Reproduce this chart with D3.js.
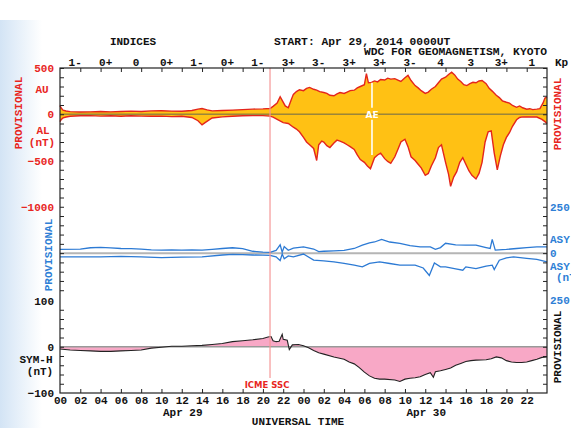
<!DOCTYPE html>
<html><head><meta charset="utf-8">
<script src="https://cdn.jsdelivr.net/npm/d3@7"></script>
<style>body{margin:0;background:#fff} svg{display:block}</style>
</head><body><svg id="c" width="571" height="428"></svg>
<script>
// ---------- DATA (hours since 2014-04-29 00UT, nT) ----------
const kpLabels = ["1-","0+","0","0+","1-","0+","1-","3+","3-","3+","3+","3-","4","3","3+","1"];
const hourTicks = d3.range(0, 48, 2);
const dayLabels = [{t:12, label:"Apr 29"},{t:36, label:"Apr 30"}];
const aeAxisLabels = [500, 0, -500, -1000];
const symAxisLabels = [100, 0, -100];
const asyAxisLabels = [250, 0, -250];
const icmeTime = 20.7;
const aeMarkTime = 30.75;

const au = [[0,95],[0.1,70],[0.3,45],[0.6,35],[1,28],[2,24],[3,26],[4,30],[5,26],[6,30],[7,34],[8,30],[9,36],[10,38],[11,34],[12,32],[13,40],[13.6,55],[14,62],[14.5,48],[15,36],[16,40],[17,45],[18,50],[19,55],[20,58],[20.7,62],[21,85],[21.4,120],[21.7,190],[21.9,150],[22.2,90],[22.5,70],[22.8,160],[23,215],[23.3,245],[23.6,265],[24,255],[24.3,280],[24.6,290],[25,270],[25.3,260],[25.6,245],[26,235],[26.3,225],[26.6,205],[27,200],[27.3,220],[27.6,235],[28,225],[28.3,240],[28.6,255],[29,260],[29.3,285],[29.6,300],[30,320],[30.2,440],[30.4,340],[30.7,345],[31,360],[31.3,350],[31.6,375],[32,370],[32.3,390],[32.6,380],[33,385],[33.3,370],[33.6,355],[34,395],[34.3,420],[34.6,365],[35,310],[35.3,285],[35.6,255],[36,225],[36.3,240],[36.6,270],[37,300],[37.3,340],[37.6,380],[38,400],[38.3,430],[38.6,455],[38.9,425],[39.2,380],[39.5,355],[39.8,320],[40.1,310],[40.4,330],[40.7,345],[41,340],[41.3,360],[41.6,365],[42,330],[42.3,280],[42.6,250],[43,205],[43.3,180],[43.6,145],[44,130],[44.3,120],[44.6,95],[45,75],[45.3,90],[45.6,70],[46,55],[46.3,60],[46.6,50],[47,55],[47.3,60],[47.6,120],[47.8,175],[48,185]];

const al = [[0,-80],[0.1,-60],[0.3,-40],[0.6,-30],[1,-22],[2,-16],[3,-15],[4,-20],[5,-16],[6,-22],[7,-16],[8,-20],[9,-22],[10,-20],[11,-26],[12,-22],[13,-35],[13.6,-70],[14,-115],[14.3,-90],[14.7,-60],[15,-40],[16,-28],[17,-22],[18,-16],[19,-15],[20,-15],[20.7,-20],[21,-30],[21.5,-60],[22,-90],[22.5,-100],[23,-140],[23.3,-160],[23.6,-190],[24,-250],[24.3,-300],[24.6,-330],[25,-370],[25.3,-500],[25.5,-330],[25.8,-290],[26,-300],[26.3,-340],[26.6,-360],[27,-310],[27.3,-280],[27.6,-290],[28,-310],[28.3,-330],[28.6,-350],[29,-380],[29.3,-440],[29.6,-490],[30,-520],[30.3,-560],[30.6,-590],[31,-470],[31.3,-440],[31.6,-420],[32,-480],[32.3,-510],[32.6,-530],[33,-460],[33.3,-380],[33.6,-300],[34,-270],[34.3,-350],[34.6,-460],[35,-500],[35.3,-540],[35.6,-580],[36,-660],[36.3,-640],[36.6,-560],[37,-470],[37.3,-360],[37.6,-330],[38,-520],[38.3,-650],[38.5,-780],[38.8,-680],[39.1,-620],[39.4,-520],[39.7,-470],[40,-540],[40.3,-610],[40.6,-660],[41,-700],[41.3,-640],[41.6,-520],[41.9,-300],[42.2,-190],[42.5,-180],[42.8,-420],[43.1,-600],[43.4,-450],[43.7,-330],[44,-250],[44.3,-200],[44.6,-130],[45,-60],[45.3,-35],[45.6,-28],[46,-30],[46.5,-28],[47,-30],[47.5,-55],[47.8,-80],[48,-100]];

const asyD = [[0,20],[2,22],[3,29],[4,31],[5,28],[6,25],[7,24],[8,22],[9,18],[10,16],[11,17],[12,16],[13,17],[14,16],[15,20],[16,25],[17,29],[18,24],[19,10],[20,5],[20.7,4],[21.3,15],[21.5,30],[21.7,45],[21.9,5],[22.1,35],[22.5,15],[23,27],[24,34],[25,22],[25.5,8],[26,10],[27,12],[28,15],[29,25],[29.8,43],[30.5,55],[31,60],[31.7,74],[32.5,60],[33.5,53],[34.5,40],[35.5,34],[36.5,34],[37,20],[37.5,30],[38,53],[39,45],[40,43],[41,43],[42,30],[42.4,25],[42.6,74],[42.9,16],[44,20],[45,25],[46,30],[47,34],[48,34]];

const asyH = [[0,20],[2,20],[4,20],[6,18],[8,20],[10,24],[12,22],[14,20],[16,10],[17,7],[18,8],[19,10],[20,11],[20.7,12],[21.3,20],[21.5,30],[21.7,40],[21.9,5],[22.1,30],[22.5,15],[23,20],[24,5],[25,38],[26,42],[27,47],[28,55],[29,65],[29.8,74],[30.5,55],[31.5,47],[32.5,56],[33.5,65],[35,65],[35.8,80],[36.4,120],[36.9,53],[37.5,74],[38,74],[39,85],[39.7,92],[40,74],[41,83],[42,70],[42.6,65],[42.8,88],[43.3,38],[44,25],[44.7,20],[46,28],[47,34],[48,47]];

const symH = [[0,-5],[1,-7],[2,-8],[3,-9],[4,-10],[5,-10],[6,-9],[7,-8],[8,-7],[9,-3],[10,-1],[11,1],[12,1],[13,2],[14,3],[15,5],[16,7],[17,11],[18,13],[19,15],[20,18],[20.5,21],[20.8,22],[21,13],[21.3,11],[21.6,12],[21.9,27],[22.0,16],[22.4,14],[22.6,-6],[22.9,4],[23.5,5],[24,2],[24.5,-2],[25,-8],[25.5,-13],[26,-16],[27,-22],[28,-27],[28.5,-33],[29,-37],[29.5,-45],[30,-55],[30.5,-63],[31,-68],[31.5,-70],[32,-70],[33,-72],[33.5,-75],[34,-70],[34.5,-68],[35,-67],[35.5,-65],[36,-60],[36.5,-56],[36.8,-66],[37,-54],[37.5,-52],[38,-49],[38.5,-46],[39,-40],[39.5,-36],[40,-32],[40.5,-30],[41,-29],[42,-28],[42.5,-26],[43,-22],[43.5,-24],[44,-30],[44.5,-33],[45,-34],[45.5,-34],[46,-33],[46.5,-30],[47,-27],[47.5,-23],[48,-22]];

// ---------- DRAW ----------
const svg = d3.select("#c");
const L = 60, R = 547, T = 68, B = 393;
const RED = "#e8261f", BLUE = "#2f7fd6", MONO = "'Liberation Mono','DejaVu Sans Mono',monospace";

const defs = svg.append("defs");
const g1 = defs.append("linearGradient").attr("id","bgL").attr("x1",0).attr("x2",1).attr("y1",0).attr("y2",0);
g1.append("stop").attr("offset",0).attr("stop-color","#d3e4f5");
g1.append("stop").attr("offset",1).attr("stop-color","#ffffff");
svg.append("rect").attr("x",0).attr("y",0).attr("width",571).attr("height",428).attr("fill","#fff");
svg.append("rect").attr("x",0).attr("y",20).attr("width",42).attr("height",408).attr("fill","url(#bgL)");

const x = d3.scaleLinear().domain([0,48]).range([L,R]);
const yAE = d3.scaleLinear().domain([500,-1000]).range([T,206.75]);
const yASY = d3.scaleLinear().domain([250,-250]).range([206.75,299.5]);
const ySYM = d3.scaleLinear().domain([100,-100]).range([300.5,B]);

// AE panel
const areaAU = d3.area().x(d=>x(d[0])).y0(yAE(0)).y1(d=>yAE(d[1]));
const lineAE = d3.line().x(d=>x(d[0])).y(d=>yAE(d[1]));
svg.append("path").datum(au).attr("d",areaAU).attr("fill","#ffc114");
svg.append("path").datum(al).attr("d",areaAU).attr("fill","#ffc114");
svg.append("path").datum(au).attr("d",lineAE).attr("fill","none").attr("stroke","#e4251c").attr("stroke-width",1.4);
svg.append("path").datum(al).attr("d",lineAE).attr("fill","none").attr("stroke","#e4251c").attr("stroke-width",1.4);
svg.append("line").attr("x1",L).attr("x2",R).attr("y1",yAE(0)).attr("y2",yAE(0)).attr("stroke","#7a6e3a").attr("stroke-opacity",0.75).attr("stroke-width",1.3);

// AE mark
svg.append("line").attr("x1",x(aeMarkTime)).attr("x2",x(aeMarkTime)).attr("y1",yAE(340)).attr("y2",yAE(70)).attr("stroke","#fff").attr("stroke-width",1.6);
svg.append("line").attr("x1",x(aeMarkTime)).attr("x2",x(aeMarkTime)).attr("y1",yAE(-60)).attr("y2",yAE(-440)).attr("stroke","#fff").attr("stroke-width",1.6);
svg.append("text").attr("x",x(aeMarkTime)).attr("y",yAE(0)+3.5).attr("text-anchor","middle").attr("fill","#fff")
  .attr("font-family","'DejaVu Sans',sans-serif").attr("font-weight","bold").attr("font-size",9).text("AE");

// ASY panel
svg.append("line").attr("x1",L).attr("x2",R).attr("y1",yASY(0)).attr("y2",yASY(0)).attr("stroke","#b5b5b5").attr("stroke-width",2);
svg.append("path").datum(asyD).attr("d",d3.line().x(d=>x(d[0])).y(d=>yASY(d[1]))).attr("fill","none").attr("stroke","#2c7ad4").attr("stroke-width",1.3);
svg.append("path").datum(asyH).attr("d",d3.line().x(d=>x(d[0])).y(d=>yASY(-d[1]))).attr("fill","none").attr("stroke","#2c7ad4").attr("stroke-width",1.3);

// SYM-H panel
svg.append("path").datum(symH).attr("d",d3.area().x(d=>x(d[0])).y0(ySYM(0)).y1(d=>ySYM(d[1]))).attr("fill","#f8a8c6");
svg.append("line").attr("x1",L).attr("x2",R).attr("y1",ySYM(0)).attr("y2",ySYM(0)).attr("stroke","#999").attr("stroke-width",1.4);
svg.append("path").datum(symH).attr("d",d3.line().x(d=>x(d[0])).y(d=>ySYM(d[1]))).attr("fill","none").attr("stroke","#222").attr("stroke-width",1.1);

// ICME line
svg.append("line").attr("x1",x(icmeTime)).attr("x2",x(icmeTime)).attr("y1",T).attr("y2",378).attr("stroke","#f59898").attr("stroke-width",1.2);
svg.append("text").attr("x",x(icmeTime)-3).attr("y",388).attr("text-anchor","middle").attr("fill",RED)
  .attr("font-family","'DejaVu Sans',sans-serif").attr("font-weight","bold").attr("font-size",8.5).text("ICME SSC");

// axes ticks
function ticks(axis, tr){ const g = svg.append("g").attr("transform",tr).call(axis); g.select(".domain").remove(); g.selectAll("line").attr("stroke","#222"); return g; }
const aeT = d3.range(500,-1001,-100), asyT = d3.range(200,-201,-50), symT = d3.range(80,-81,-20);
[[yAE,aeT],[yASY,asyT],[ySYM,symT]].forEach(([s,tv])=>{
  ticks(d3.axisLeft(s).tickValues(tv).tickSize(-4).tickFormat(""), `translate(${L},0)`);
  ticks(d3.axisRight(s).tickValues(tv).tickSize(-4).tickFormat(""), `translate(${R},0)`);
});
ticks(d3.axisTop(x).tickValues(hourTicks.slice(1)).tickSize(-4).tickFormat(""), `translate(0,${T})`);
const bx = ticks(d3.axisBottom(x).tickValues(hourTicks).tickSize(-4).tickPadding(5)
  .tickFormat(d=>String(d%24).padStart(2,"0")), `translate(0,${B})`);
bx.selectAll("text").attr("font-family",MONO).attr("font-weight","bold").attr("font-size",11).attr("fill","#111").attr("dy","0.71em").attr("y",3);
bx.selectAll(".tick").filter(d=>d===0).select("line").remove();

// frame
svg.append("rect").attr("x",L).attr("y",T).attr("width",R-L).attr("height",B-T).attr("fill","none").attr("stroke","#222").attr("stroke-width",1.2);

// text helper
function txt(xp,yp,s,opt={}){
  const t = svg.append("text").attr("x",xp).attr("y",yp).text(s)
    .attr("font-family",opt.font||MONO).attr("font-weight","bold").attr("font-size",opt.size||11)
    .attr("fill",opt.fill||"#111").attr("text-anchor",opt.anchor||"start");
  if(opt.rot) t.attr("transform",`rotate(${opt.rot},${xp},${yp})`);
  return t;
}
// top
txt(133,45,"INDICES",{anchor:"middle"});
txt(274,45,"START: Apr 29, 2014  0000UT",{size:11.3});
txt(547,55,"WDC FOR GEOMAGNETISM, KYOTO",{anchor:"end",size:11.3});
kpLabels.forEach((k,i)=>txt(x(3*i+1.5),66,k,{anchor:"middle"}));
txt(555,66,"Kp");

// left AE labels
aeAxisLabels.forEach(v=>txt(54,yAE(v)+4,v<0?"\u2212"+Math.abs(v):String(v),{anchor:"end",fill:RED}));
txt(42,93,"AU",{anchor:"middle",fill:RED});
txt(43,134,"AL",{anchor:"middle",fill:RED});
txt(42,146,"(nT)",{anchor:"middle",fill:RED});
txt(22,113,"PROVISIONAL",{anchor:"middle",fill:RED,rot:-90});
txt(52,255,"PROVISIONAL",{anchor:"middle",fill:BLUE,rot:-90});
// left SYM labels
symAxisLabels.forEach(v=>txt(54,ySYM(v)+4,v<0?"\u2212"+Math.abs(v):String(v),{anchor:"end"}));
txt(36,363,"SYM-H",{anchor:"middle"});
txt(40,375,"(nT)",{anchor:"middle"});
// right labels
txt(561,114,"PROVISIONAL",{anchor:"middle",fill:RED,rot:-90});
txt(561,347,"PROVISIONAL",{anchor:"middle",rot:-90});
asyAxisLabels.forEach(v=>txt(550,yASY(v)+4,String(Math.abs(v)),{fill:BLUE}));
txt(550,243,"ASY-D",{fill:BLUE});
txt(550,270,"ASY-H",{fill:BLUE});
txt(556,281,"(nT)",{fill:BLUE});
// bottom
dayLabels.forEach(d=>txt(x(d.t)+1,416,d.label,{anchor:"middle"}));
txt(298,425,"UNIVERSAL TIME",{anchor:"middle"});
</script></body></html>
